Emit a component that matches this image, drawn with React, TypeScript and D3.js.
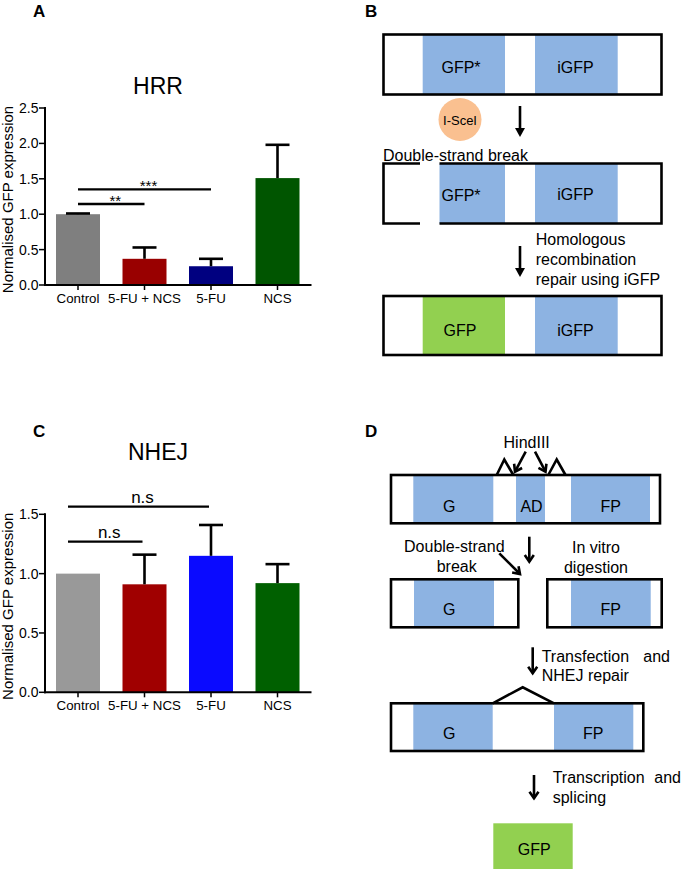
import React from "react";
import * as d3 from "d3";

const categories = ["Control", "5-FU + NCS", "5-FU", "NCS"];
const hrrMeans = [1.0, 0.37, 0.265, 1.51];
const hrrErrors = [0.01, 0.16, 0.105, 0.47];
const hrrColors = ["#7f7f7f", "#990000", "#000080", "#005500"];
const hrrTicks = [0, 0.5, 1.0, 1.5, 2.0, 2.5];
const hrrSig = [
  { from: 0, to: 1, label: "**", level: 1.145 },
  { from: 0, to: 2, label: "***", level: 1.35 },
];

const nhejMeans = [1.0, 0.91, 1.15, 0.92];
const nhejErrors = [0, 0.25, 0.26, 0.16];
const nhejColors = ["#999999", "#a00000", "#0a0aff", "#006000"];
const nhejTicks = [0, 0.5, 1.0, 1.5];
const nhejSig = [
  { from: 0, to: 1, label: "n.s", level: 1.27 },
  { from: 0, to: 2, label: "n.s", level: 1.565 },
];

const FONT = "'Liberation Sans', Arial, Helvetica, sans-serif";
const BLUE = "#8db3e2";
const GREEN = "#92d050";
const PEACH = "#fac090";

type Sig = { from: number; to: number; label: string; level: number };

function BarPanel(props: {
  title: string;
  titleY: number;
  means: number[];
  errors: number[];
  colors: string[];
  ticks: number[];
  yMax: number;
  yTop: number;
  yBottom: number;
  sig: Sig[];
  sigStartOffset: number;
  sigFont: number;
  sigTextDy: number;
}) {
  const { means, errors, colors, ticks, yMax, yTop, yBottom, sig } = props;
  const x = d3.scalePoint<string>().domain(categories).range([78, 277.5]);
  const y = d3.scaleLinear().domain([0, yMax]).range([yBottom, yTop]);
  const barW = 44;
  const capW = 24;
  const axisLeft = 45;
  const axisRight = 311.5;
  return (
    <g>
      <text x={158} y={props.titleY} fontSize={23} textAnchor="middle" fontFamily={FONT}>
        {props.title}
      </text>
      {categories.map((c, i) => {
        const cx = x(c)!;
        return (
          <g key={c}>
            <rect x={cx - barW / 2} y={y(means[i])} width={barW} height={y(0) - y(means[i])} fill={colors[i]} />
            {errors[i] > 0 && (
              <g stroke="#000" strokeWidth={2.6}>
                <line x1={cx} x2={cx} y1={y(means[i])} y2={y(means[i] + errors[i])} />
                <line x1={cx - capW / 2} x2={cx + capW / 2} y1={y(means[i] + errors[i])} y2={y(means[i] + errors[i])} />
              </g>
            )}
          </g>
        );
      })}
      <line x1={axisLeft} x2={axisLeft} y1={yTop - 1} y2={yBottom + 1} stroke="#000" strokeWidth={2} />
      <line x1={axisLeft - 1} x2={axisRight} y1={yBottom} y2={yBottom} stroke="#000" strokeWidth={2} />
      {ticks.map((t) => (
        <g key={t}>
          <line x1={axisLeft - 6} x2={axisLeft} y1={y(t)} y2={y(t)} stroke="#000" strokeWidth={1.5} />
          <text x={38.5} y={y(t) + 5} fontSize={14} textAnchor="end" fontFamily={FONT}>
            {d3.format(".1f")(t)}
          </text>
        </g>
      ))}
      {categories.map((c) => (
        <g key={c}>
          <line x1={x(c)!} x2={x(c)!} y1={yBottom} y2={yBottom + 5} stroke="#000" strokeWidth={1.5} />
          <text x={x(c)!} y={yBottom + 18} fontSize={13.3} textAnchor="middle" fontFamily={FONT}>
            {c}
          </text>
        </g>
      ))}
      {sig.map((s, i) => {
        const x1 = x(categories[s.from])! + props.sigStartOffset;
        const x2 = x(categories[s.to])! + props.sigStartOffset * 0.2;
        return (
          <g key={i}>
            <line x1={x1} x2={x2} y1={y(s.level)} y2={y(s.level)} stroke="#000" strokeWidth={2.4} />
            <text x={(x1 + x2) / 2 + 4} y={y(s.level) + props.sigTextDy} fontSize={props.sigFont} textAnchor="middle" fontFamily={FONT}>
              {s.label}
            </text>
          </g>
        );
      })}
      <text
        transform={`translate(12.5, ${(yTop + yBottom) / 2 + 3}) rotate(-90)`}
        fontSize={15}
        textAnchor="middle"
        fontFamily={FONT}
      >
        Normalised GFP expression
      </text>
    </g>
  );
}

function ArrowDown(props: { x: number; y1: number; y2: number }) {
  const { x, y1, y2 } = props;
  return (
    <g>
      <line x1={x} x2={x} y1={y1} y2={y2 - 6} stroke="#000" strokeWidth={2.6} />
      <path d={`M${x - 5},${y2 - 9} L${x + 5},${y2 - 9} L${x},${y2} Z`} fill="#000" />
    </g>
  );
}

function LineArrow(props: { x1: number; y1: number; x2: number; y2: number }) {
  const { x1, y1, x2, y2 } = props;
  const ang = Math.atan2(y2 - y1, x2 - x1);
  const L = 8;
  const a1 = ang + Math.PI - 0.6;
  const a2 = ang + Math.PI + 0.6;
  return (
    <g stroke="#000" strokeWidth={2.6} fill="none" strokeLinecap="butt">
      <line x1={x1} y1={y1} x2={x2} y2={y2} />
      <path
        d={`M${x2 + L * Math.cos(a1)},${y2 + L * Math.sin(a1)} L${x2},${y2} L${x2 + L * Math.cos(a2)},${y2 + L * Math.sin(a2)}`}
      />
    </g>
  );
}

function PanelB() {
  const x0 = 383.5;
  const x1 = 661.5;
  const sw = 2.6;
  return (
    <g fontFamily={FONT}>
      <rect x={422.7} y={34.5} width={82.3} height={60} fill={BLUE} />
      <rect x={535} y={34.5} width={82.7} height={60} fill={BLUE} />
      <rect x={x0} y={34.5} width={x1 - x0} height={60} fill="none" stroke="#000" strokeWidth={sw} />
      <text x={461} y={73} fontSize={16} textAnchor="middle">GFP*</text>
      <text x={575.5} y={73} fontSize={16} textAnchor="middle">iGFP</text>

      <circle cx={460} cy={119.5} r={21.5} fill={PEACH} />
      <text x={460} y={124.5} fontSize={13} textAnchor="middle">I-SceI</text>
      <ArrowDown x={520} y1={106} y2={137} />
      <text x={383} y={161} fontSize={16}>Double-strand break</text>

      <rect x={439.5} y={163.5} width={65.5} height={60} fill={BLUE} />
      <rect x={535} y={163.5} width={82.7} height={60} fill={BLUE} />
      <path
        d={`M420,163.5 L${x0},163.5 L${x0},223.5 L420,223.5 M439.5,163.5 L${x1},163.5 L${x1},223.5 L439.5,223.5`}
        fill="none"
        stroke="#000"
        strokeWidth={sw}
      />
      <text x={461} y={201} fontSize={16} textAnchor="middle">GFP*</text>
      <text x={575.5} y={200} fontSize={16} textAnchor="middle">iGFP</text>

      <ArrowDown x={520} y1={246} y2={277} />
      <text x={535.7} y={245} fontSize={16}>Homologous</text>
      <text x={535.7} y={265} fontSize={16}>recombination</text>
      <text x={535.7} y={285} fontSize={16}>repair using iGFP</text>

      <rect x={422.7} y={296} width={82.3} height={59} fill={GREEN} />
      <rect x={535} y={296} width={82.7} height={59} fill={BLUE} />
      <rect x={x0} y={296} width={x1 - x0} height={59} fill="none" stroke="#000" strokeWidth={sw} />
      <text x={460} y={335.5} fontSize={16} textAnchor="middle">GFP</text>
      <text x={575.5} y={335.5} fontSize={16} textAnchor="middle">iGFP</text>
    </g>
  );
}

function PanelD() {
  const sw = 2.6;
  return (
    <g fontFamily={FONT}>
      <text x={526.7} y={448} fontSize={16} textAnchor="middle">HindIII</text>
      <LineArrow x1={525.7} y1={451.7} x2={515} y2={471.7} />
      <LineArrow x1={535} y1={451.7} x2={545.5} y2={471.7} />
      <polyline points="496.7,475 504.3,459.5 513.3,475" fill="none" stroke="#000" strokeWidth={sw} />
      <polyline points="548.3,475 556.7,459.5 565.5,475" fill="none" stroke="#000" strokeWidth={sw} />

      <rect x={413.3} y={475} width={80} height={48.3} fill={BLUE} />
      <rect x={516} y={475} width={29} height={48.3} fill={BLUE} />
      <rect x={571} y={475} width={79} height={48.3} fill={BLUE} />
      <rect x={391} y={475} width={269} height={48.3} fill="none" stroke="#000" strokeWidth={sw} />
      <text x={449.3} y={511.5} fontSize={16} textAnchor="middle">G</text>
      <text x={531.5} y={511.5} fontSize={16} textAnchor="middle">AD</text>
      <text x={610.7} y={511.5} fontSize={16} textAnchor="middle">FP</text>

      <LineArrow x1={529.3} y1={536.7} x2={529.3} y2={561.7} />
      <text x={454.3} y={551.7} fontSize={16} textAnchor="middle">Double-strand</text>
      <text x={456.7} y={571.7} fontSize={16} textAnchor="middle">break</text>
      <LineArrow x1={499.3} y1={553.3} x2={520} y2={574} />
      <text x={596} y={553} fontSize={16} textAnchor="middle">In vitro</text>
      <text x={596} y={573} fontSize={16} textAnchor="middle">digestion</text>

      <rect x={414} y={579.3} width={80} height={48} fill={BLUE} />
      <rect x={391} y={579.3} width={127.3} height={48} fill="none" stroke="#000" strokeWidth={sw} />
      <text x={449.3} y={615} fontSize={16} textAnchor="middle">G</text>
      <rect x={571} y={579.3} width={79.7} height={48} fill={BLUE} />
      <rect x={547.3} y={579.3} width={114.4} height={48} fill="none" stroke="#000" strokeWidth={sw} />
      <text x={610.7} y={615} fontSize={16} textAnchor="middle">FP</text>

      <LineArrow x1={532.7} y1={647.3} x2={532.7} y2={673.3} />
      <text x={541.7} y={661.7} fontSize={16}>Transfection</text>
      <text x={670} y={661.7} fontSize={16} textAnchor="end">and</text>
      <text x={541.7} y={681} fontSize={16}>NHEJ repair</text>

      <rect x={413.3} y={703.3} width={79.4} height={47.7} fill={BLUE} />
      <rect x={554} y={703.3} width={79.3} height={47.7} fill={BLUE} />
      <rect x={391} y={703.3} width={252.3} height={47.7} fill="none" stroke="#000" strokeWidth={sw} />
      <polyline points="492.7,703.3 522.7,687.3 554,703.3" fill="none" stroke="#000" strokeWidth={sw} />
      <text x={449.3} y={739} fontSize={16} textAnchor="middle">G</text>
      <text x={593.3} y={739} fontSize={16} textAnchor="middle">FP</text>

      <LineArrow x1={534} y1={775} x2={534} y2={798.3} />
      <text x={552.7} y={783.3} fontSize={16}>Transcription</text>
      <text x={681} y={783.3} fontSize={16} textAnchor="end">and</text>
      <text x={552.7} y={803.3} fontSize={16}>splicing</text>

      <rect x={493.3} y={823.3} width={79.4} height={46} fill={GREEN} />
      <text x={534.3} y={855} fontSize={16} textAnchor="middle">GFP</text>
    </g>
  );
}

export default function App() {
  return (
    <svg
      width={681}
      height={869}
      viewBox="0 0 681 869"
      style={{ position: "absolute", left: 0, top: 0, background: "#fff" }}
    >
      <rect x={0} y={0} width={681} height={869} fill="#fff" />
      <g fontFamily={FONT} fontWeight="bold" fontSize={17}>
        <text x={33} y={16.5}>A</text>
        <text x={365} y={16.5}>B</text>
        <text x={33} y={437}>C</text>
        <text x={365} y={437}>D</text>
      </g>
      <BarPanel
        title="HRR"
        titleY={94}
        means={hrrMeans}
        errors={hrrErrors}
        colors={hrrColors}
        ticks={hrrTicks}
        yMax={2.5}
        yTop={108}
        yBottom={285}
        sig={hrrSig}
        sigStartOffset={0}
        sigFont={15}
        sigTextDy={2}
      />
      <BarPanel
        title="NHEJ"
        titleY={460}
        means={nhejMeans}
        errors={nhejErrors}
        colors={nhejColors}
        ticks={nhejTicks}
        yMax={1.5}
        yTop={514.3}
        yBottom={692.3}
        sig={nhejSig}
        sigStartOffset={-10}
        sigFont={17}
        sigTextDy={-4}
      />
      <PanelB />
      <PanelD />
    </svg>
  );
}
